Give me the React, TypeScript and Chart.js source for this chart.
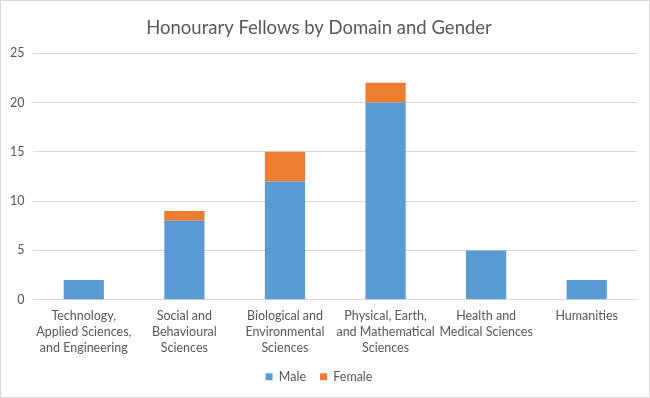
import React, { useEffect, useRef } from "react";
import { Chart, registerables } from "chart.js";

Chart.register(...registerables);

const categories: string[][] = [
  ["Technology,", "Applied Sciences,", "and Engineering"],
  ["Social and", "Behavioural", "Sciences"],
  ["Biological and", "Environmental", "Sciences"],
  ["Physical, Earth,", "and Mathematical", "Sciences"],
  ["Health and", "Medical Sciences"],
  ["Humanities"],
];
const maleValues = [2, 8, 12, 20, 5, 2];
const femaleValues = [0, 1, 3, 2, 0, 0];
const seriesNames = ["Male", "Female"];
const titleText = "Honourary Fellows by Domain and Gender";

const FONT = "Lato, 'Open Sans', sans-serif";
const TEXT = "#595959";

export default function App() {
  const ref = useRef<HTMLCanvasElement | null>(null);
  useEffect(() => {
    document.body.style.margin = "0";
    if (!ref.current) return;
    const chart = new Chart(ref.current, {
      type: "bar",
      data: {
        labels: categories,
        datasets: [
          {
            label: seriesNames[0],
            data: maleValues,
            backgroundColor: "#5B9BD5",
            borderWidth: 0,
            barPercentage: 0.8,
            categoryPercentage: 0.5,
          },
          {
            label: seriesNames[1],
            data: femaleValues,
            backgroundColor: "#ED7D31",
            borderWidth: 0,
            barPercentage: 0.8,
            categoryPercentage: 0.5,
          },
        ],
      },
      options: {
        animation: false,
        responsive: false,
        maintainAspectRatio: false,
        layout: { padding: { left: 0, right: 12, top: 0, bottom: 4 } },
        plugins: {
          title: {
            display: true,
            text: titleText,
            color: TEXT,
            font: { family: FONT, size: 18.5, weight: "normal" },
            padding: { top: 16, bottom: 14 },
          },
          legend: {
            position: "bottom",
            labels: {
              color: TEXT,
              font: { family: FONT, size: 12.5 },
              boxWidth: 7,
              boxHeight: 7,
              padding: 14,
            },
          },
          tooltip: { enabled: false },
        },
        scales: {
          x: {
            stacked: true,
            grid: { display: false },
            border: { color: "#d9d9d9" },
            ticks: {
              color: TEXT,
              font: { family: FONT, size: 12.5, lineHeight: 1.3 },
              maxRotation: 0,
              autoSkip: false,
              padding: 0,
            },
          },
          y: {
            stacked: true,
            min: 0,
            max: 25,
            grid: { color: "#d9d9d9", drawTicks: false },
            border: { display: false },
            ticks: {
              stepSize: 5,
              color: TEXT,
              font: { family: FONT, size: 12.5 },
              padding: 9,
            },
          },
        },
      },
    });
    return () => chart.destroy();
  }, []);
  return (
    <div
      style={{
        width: 650,
        height: 398,
        boxSizing: "border-box",
        border: "1px solid #d9d9d9",
        background: "#fff",
      }}
    >
      <canvas ref={ref} width={648} height={396} style={{ display: "block" }} />
    </div>
  );
}
